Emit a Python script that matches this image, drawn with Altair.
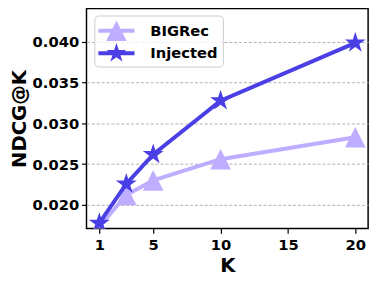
import altair as alt
import pandas as pd

K = [1, 3, 5, 10, 20]
bigrec = [0.0173, 0.0212, 0.0230, 0.0256, 0.0283]
injected = [0.01775, 0.02257, 0.0262, 0.0328, 0.0399]
series = ["BIGRec", "Injected"]
colors = ["#bfaeff", "#4a3fe4"]
x_ticks = [1, 5, 10, 15, 20]
y_ticks = [0.020, 0.025, 0.030, 0.035, 0.040]

rows = []
for k, b, i in zip(K, bigrec, injected):
    rows.append({"K": k, "NDCG": b, "Method": "BIGRec"})
    rows.append({"K": k, "NDCG": i, "Method": "Injected"})
df = pd.DataFrame(rows)

TRI = "M0,-1L1,1L-1,1Z"
STAR = ("M0,-1L0.2245,-0.309L0.9511,-0.309L0.3633,0.118L0.5878,0.809L0,0.382"
        "L-0.5878,0.809L-0.3633,0.118L-0.9511,-0.309L-0.2245,-0.309Z")
BAR = "M-1.75,-0.2L1.75,-0.2L1.75,0.2L-1.75,0.2Z"
TRI_LEG = BAR + TRI
STAR_LEG = BAR + STAR
FONT = "DejaVu Sans"

legend = alt.Legend(
    title=None, orient="none", legendX=8, legendY=7,
    labelFont=FONT, labelFontSize=15, labelFontWeight="bold", labelColor="black",
    symbolSize=441, padding=5, symbolOffset=7, labelOffset=24, rowPadding=2,
    strokeColor="#cccccc", fillColor="rgba(255,255,255,0.8)", cornerRadius=4,
    symbolStrokeWidth=0, symbolOpacity=1,
)

x = alt.X("K:Q", scale=alt.Scale(domain=[0.05, 20.95], nice=False, zero=False),
          axis=alt.Axis(values=x_ticks, format="d", title="K", grid=False,
                        labelPadding=4, titlePadding=4))
y = alt.Y("NDCG:Q", scale=alt.Scale(domain=[0.0171, 0.0441], nice=False, zero=False),
          axis=alt.Axis(values=y_ticks, format=".3f", title="NDCG@K", grid=True,
                        gridDash=[3, 2], gridColor="#b0b0b0", gridWidth=1,
                        labelPadding=3, titlePadding=3))

base = alt.Chart(df)
layers = []
for name, col, shape, size in zip(series, colors, [TRI, STAR], [441, 500]):
    sub = base.transform_filter(alt.datum.Method == name)
    layers.append(sub.mark_line(strokeWidth=4, color=col, clip=True).encode(x=x, y=y))
    layers.append(sub.mark_point(shape=shape, filled=True, color=col, size=size,
                                 opacity=1, clip=True).encode(x=x, y=y))

legend_layer = base.mark_point(filled=True, opacity=0, size=441).encode(
    x=x, y=y,
    color=alt.Color("Method:N", scale=alt.Scale(domain=series, range=colors), legend=legend),
    shape=alt.Shape("Method:N", scale=alt.Scale(domain=series, range=[TRI_LEG, STAR_LEG]),
                    legend=legend),
)
layers.append(legend_layer)

chart = alt.layer(*layers).properties(
    width=287, height=224,
    autosize=alt.AutoSizeParams(type="none"),
    padding={"left": 80, "top": -2, "right": 6, "bottom": 55},
).configure_view(stroke="black", strokeWidth=1.5).configure_axis(
    domain=False, tickColor="black", tickWidth=1.2, tickSize=5,
    labelFont=FONT, labelFontSize=15, labelFontWeight="bold", labelColor="black",
    titleFont=FONT, titleFontSize=20, titleFontWeight="bold", titleColor="black",
)

chart.save("out.html", embed_options={"renderer": "svg", "actions": False})
